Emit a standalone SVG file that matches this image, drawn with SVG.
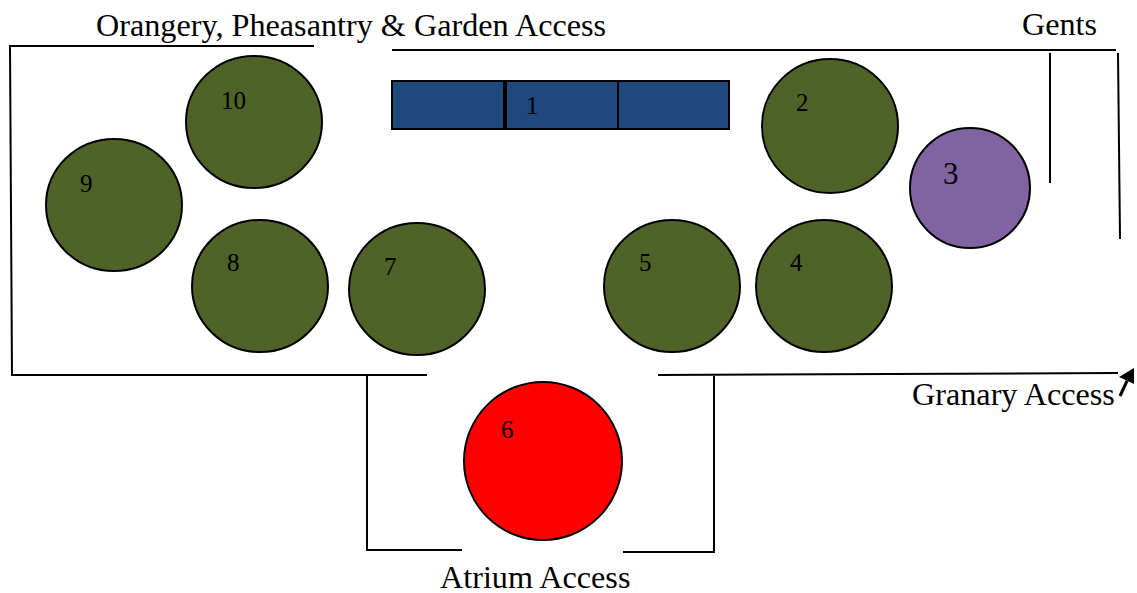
<svg xmlns="http://www.w3.org/2000/svg" width="1137" height="593" viewBox="0 0 1137 593">
<style>
text{font-family:"Liberation Serif","Times New Roman",serif;fill:#000}
.lbl{font-size:32.2px}
.n{font-size:25px}
.g{fill:#4f6228;stroke:#000;stroke-width:2}
.b{fill:#1f497d;stroke:#000;stroke-width:2}
.w{fill:none;stroke:#000;stroke-width:2}
</style>
<rect width="1137" height="593" fill="#fff"/>
<g id="connectors">
<path class="w" d="M314 46H10L12 375H427"/>
<path class="w" d="M392 50H1116"/>
<path class="w" d="M1050 53V183"/>
<path class="w" d="M1118 53L1120 239"/>
<path class="w" d="M658 375L1118 373"/>
<path class="w" d="M367 376V550H462"/>
<path class="w" d="M714 376V552H623"/>
<path d="M1120 396L1127 381" fill="none" stroke="#000" stroke-width="3"/>
<path d="M1134 368L1134 384L1119 377Z" fill="#000"/>
</g>
<g id="node-1"><rect class="b" x="392" y="81" width="112" height="48"/><rect class="b" x="506" y="81" width="112" height="48"/><rect class="b" x="618" y="81" width="111" height="48"/><text class="n" x="526" y="114">1</text></g>
<g id="node-2"><ellipse class="g" cx="830" cy="126" rx="68" ry="67"/><text class="n" x="796" y="111">2</text></g>
<g id="node-3"><circle cx="970" cy="188" r="60" fill="#8064a2" stroke="#000" stroke-width="2"/><text x="943" y="184" font-size="31">3</text></g>
<g id="node-4"><ellipse class="g" cx="824" cy="286" rx="68" ry="66"/><text class="n" x="790" y="271">4</text></g>
<g id="node-5"><ellipse class="g" cx="672" cy="286" rx="68" ry="66"/><text class="n" x="639" y="271">5</text></g>
<g id="node-6"><ellipse cx="543" cy="461" rx="79" ry="79" fill="#f00" stroke="#000" stroke-width="2"/><text class="n" x="501" y="438">6</text></g>
<g id="node-7"><ellipse class="g" cx="417" cy="289" rx="68" ry="66"/><text class="n" x="384" y="275">7</text></g>
<g id="node-8"><ellipse class="g" cx="260" cy="286" rx="68" ry="66"/><text class="n" x="227" y="271">8</text></g>
<g id="node-9"><ellipse class="g" cx="114" cy="205" rx="68" ry="66"/><text class="n" x="80" y="192">9</text></g>
<g id="node-10"><ellipse class="g" cx="254" cy="122" rx="68" ry="66"/><text class="n" x="221" y="109">10</text></g>
<text class="lbl" x="96" y="36">Orangery, Pheasantry &amp; Garden Access</text>
<text class="lbl" x="1022" y="35">Gents</text>
<text class="lbl" x="912" y="405">Granary Access</text>
<text class="lbl" x="440" y="588">Atrium Access</text>
</svg>
